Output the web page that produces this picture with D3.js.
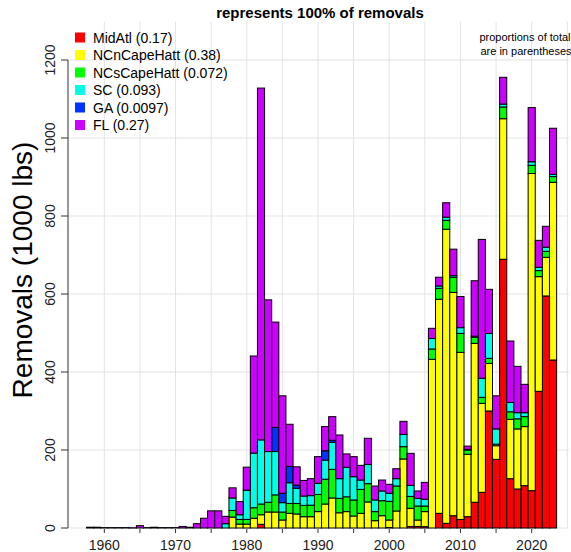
<!DOCTYPE html>
<html><head><meta charset="utf-8">
<script src="https://cdn.jsdelivr.net/npm/d3@7"></script>
<style>
html,body{margin:0;padding:0;background:#fff;}
svg{display:block;font-family:"Liberation Sans",Arial,Helvetica,sans-serif;}
</style></head><body>
<svg id="chart" width="571" height="552"></svg>
<script>
const years = [1958,1959,1960,1961,1962,1963,1964,1965,1966,1967,1968,1969,1970,1971,1972,1973,1974,1975,1976,1977,1978,1979,1980,1981,1982,1983,1984,1985,1986,1987,1988,1989,1990,1991,1992,1993,1994,1995,1996,1997,1998,1999,2000,2001,2002,2003,2004,2005,2006,2007,2008,2009,2010,2011,2012,2013,2014,2015,2016,2017,2018,2019,2020,2021,2022,2023];

const midAtl = [0,0,0,0,0,0,0,0,0,0,0,0,0,0,0,0,0,0,0,0,0,0,0,0,9.5,0,0,0,0,0,0,0,0,0,0,0,0,0,0,0,0,0,1,0,0,4,4,3.4,0,37.6,12,31.5,22,29,66,91.5,300,176,689,126.5,100,108.5,95.7,350.4,595,430.8];
const ncnCapeHatt = [0,0,0,0,0,0,0,0,0,0,0,0,0,0,0,0,0,0,0,0,28,10,10,25,24.5,41,41,20.5,37.6,36,29,29,42,61.5,77,39,42,30.8,37.6,66.7,18.8,31.6,19.5,43.6,177,46.4,16.5,38.6,432.5,548.8,754,572.5,428.4,160,407.5,228.1,122,35,360.5,152.1,154,151.5,813.3,294.1,99,455.6];
const ncsCapeHatt = [0,0,0,0,0,0,0,0,0,0,0,0,0,0,0,0,0,0,0,0,17,12,12,27,27.5,25,44,20.5,25.4,27,29,29.5,44,63.5,73.4,37,38,41,61.4,47,23.2,38.4,47.9,64.1,31.5,30.6,35.9,14.4,26.5,28.2,23,39,48.6,11,15.5,15.4,13,4,30,19.4,26,25.5,21,15.5,15.4,14.6];
const sc = [0,0,0,0,0,0,0,0,0,0,0,0,0,0,0,0,0,0,0,11,32,12,75,140,164.5,130,111,24,53,39,24,24.5,28.6,49,69.2,50.5,75.6,59.8,24,49.3,29.8,25,20.6,18.8,31.5,28.4,19.6,17.2,27,5.9,8,4,14.7,1.7,3,49,64,39,7.5,24,15.7,10.2,9,8.5,10.6,6];
const ga = [0,0,0,0,0,0,0,0,0,0,0,0,0,0,0,0,0,0,0,0,0,0,0,0,0,0,62,24,42,8,0,0,0,24,5.4,0,0,0,0,0,0,0,0,0,0,0,0,0,0,0,0,0,0,0,0,0,0,0,0,0,0,0,0,0,0,0];
const fl = [2,2,1,1,1,1,0.6,6,1,2,1,1,1,4,2,11,25,44,44,19,26,34,59,249,902,389,270,250,108,47,40,43.5,68.4,62,60.5,112,34.4,51.4,37.7,67,35.9,28,23,25.5,33.5,82.1,19,43.4,26,22.5,37,68,79.8,8.3,142,356,113,85,68.6,157.5,118.8,72.7,139,69.1,53.6,118];

const seriesNames = ["MidAtl (0.17)","NCnCapeHatt (0.38)","NCsCapeHatt (0.072)","SC (0.093)","GA (0.0097)","FL (0.27)"];
const seriesColors = ["#FF0000","#FFFF00","#00FF00","#00FFE6","#0033FF","#CC00FF"];
const yTicks = [0,200,400,600,800,1000,1200];
const xTicks = [1960,1965,1970,1975,1980,1985,1990,1995,2000,2005,2010,2015,2020];
const xLabels = [1960,1970,1980,1990,2000,2010,2020];
const gridYears = [1960,1965,1970,1975,1980,1985,1990,1995,2000,2005,2010,2015,2020,2025];

const keys = ["midAtl","ncn","ncs","sc","ga","fl"];
const allSeries = [midAtl, ncnCapeHatt, ncsCapeHatt, sc, ga, fl];
const table = years.map((yr,i)=>{ const o={year:yr}; keys.forEach((k,j)=>o[k]=allSeries[j][i]); return o; });

const svg = d3.select("#chart");
const x = d3.scaleLinear().domain([1955,2025]).range([68.7,567.3]);
const y = d3.scaleLinear().domain([0,1200]).range([528,60]);
const plotTop = 22, plotLeft = 68, plotRight = 569;

// grid
svg.append("g").selectAll("line").data(gridYears).join("line")
  .attr("x1",d=>x(d)).attr("x2",d=>x(d)).attr("y1",plotTop).attr("y2",528)
  .attr("stroke","#e3e3e3").attr("stroke-width",1);
svg.append("g").selectAll("line").data(yTicks).join("line")
  .attr("x1",plotLeft).attr("x2",plotRight).attr("y1",d=>y(d)).attr("y2",d=>y(d))
  .attr("stroke","#e3e3e3").attr("stroke-width",1);

// bars
const stack = d3.stack().keys(keys);
const stacked = stack(table);
svg.append("g").selectAll("g").data(stacked).join("g")
  .attr("fill",(d,i)=>seriesColors[i])
  .selectAll("rect").data(d=>d.filter(s=>s[1]-s[0]>0)).join("rect")
  .attr("x",d=>x(d.data.year-0.5))
  .attr("width",d=>x(d.data.year+0.5)-x(d.data.year-0.5))
  .attr("y",d=>y(d[1]))
  .attr("height",d=>Math.max(0.3,y(d[0])-y(d[1])))
  .attr("stroke","#000").attr("stroke-width",1);

// y axis
const yAxis = svg.append("g");
yAxis.append("line").attr("x1",plotLeft).attr("x2",plotLeft).attr("y1",y(0)).attr("y2",y(1200)).attr("stroke","#333");
yAxis.selectAll("line.t").data(yTicks).join("line").attr("class","t")
  .attr("x1",plotLeft-7).attr("x2",plotLeft).attr("y1",d=>y(d)).attr("y2",d=>y(d)).attr("stroke","#333");
yAxis.selectAll("text").data(yTicks).join("text")
  .attr("transform",d=>`translate(55,${y(d)}) rotate(-90)`)
  .attr("text-anchor","middle").attr("font-size",14).attr("fill","#222").text(d=>d);

// x axis ticks
svg.append("g").selectAll("line").data(xTicks).join("line")
  .attr("x1",d=>x(d)).attr("x2",d=>x(d)).attr("y1",529).attr("y2",533).attr("stroke","#333");
svg.append("g").selectAll("text").data(xLabels).join("text")
  .attr("x",d=>x(d)).attr("y",550).attr("text-anchor","middle").attr("font-size",14).attr("fill","#222").text(d=>d);

// y title
svg.append("text").attr("transform","translate(32,270) rotate(-90)").attr("text-anchor","middle")
  .attr("font-size",28).attr("fill","#000").text("Removals (1000 lbs)");

// title
svg.append("text").attr("x",320).attr("y",18).attr("text-anchor","middle").attr("font-size",15)
  .attr("font-weight","bold").attr("fill","#000").text("represents 100% of removals");

// note
svg.append("text").attr("x",525).attr("y",41).attr("text-anchor","middle").attr("font-size",11).text("proportions of total");
svg.append("text").attr("x",526).attr("y",55).attr("text-anchor","middle").attr("font-size",11).text("are in parentheses");

// legend
const lg = svg.append("g");
seriesNames.forEach((n,i)=>{
  const cy = 37.5 + i*17.5;
  lg.append("rect").attr("x",75).attr("y",cy-5).attr("width",10).attr("height",10).attr("fill",seriesColors[i]);
  lg.append("text").attr("x",93).attr("y",cy+5).attr("font-size",14).attr("fill","#000").text(n);
});
</script>
</body></html>
